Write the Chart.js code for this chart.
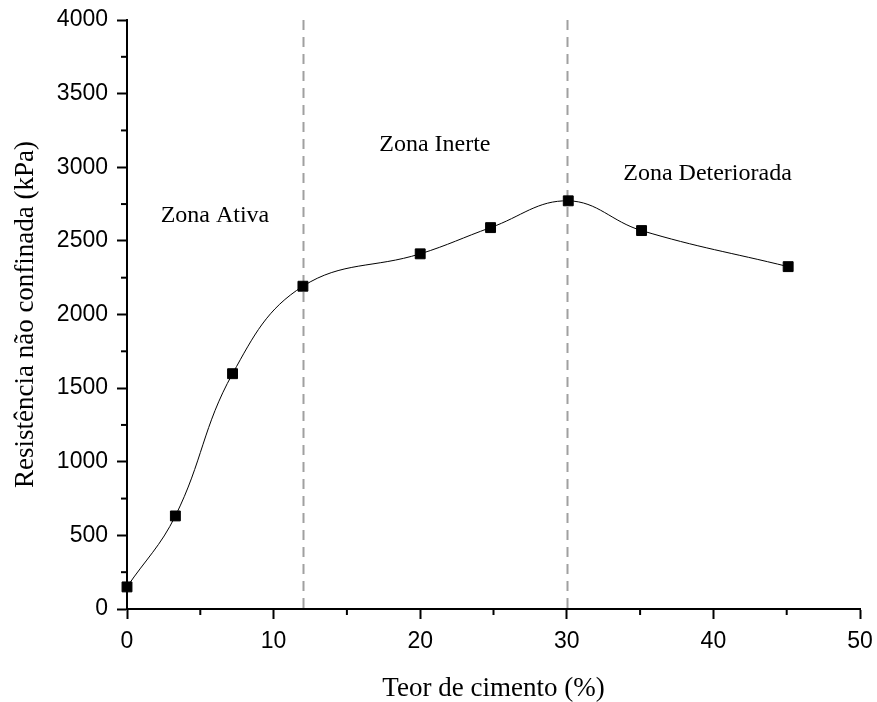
<!DOCTYPE html>
<html>
    <head>
        <title>Resistência x Teor de cimento</title>
        <meta charset="UTF-8">
        <script src="https://cdn.jsdelivr.net/npm/chart.js@4.4.1/dist/chart.umd.min.js"></script>
        <style>
            body { margin: 0; background: #fff; }
            #wrap { width: 877px; height: 702px; }
        </style>
    </head>
    <body>
        <div id="wrap"><canvas id="grafico" width="877" height="702"></canvas></div>
        <script>
            // teor de cimento (%) e resistencia (kPa)
            const teor = [0, 3.3, 7.2, 12, 20, 24.8, 30.1, 35.1, 45.1];
            const resistencia = [150, 632, 1598, 2192, 2412, 2590, 2772, 2570, 2325];
            const limitesZonas = [12, 30];
            const zonas = ['Zona Ativa', 'Zona Inerte', 'Zona Deteriorada'];
            const zonasX = [6.0, 21.0, 39.6];
            const zonasY = [2673, 3150, 2959];

            const pontos = teor.map((t, i) => ({ x: t, y: resistencia[i] }));

            // linhas tracejadas, textos e ticks menores
            const extras = {
                id: 'extras',
                beforeDatasetsDraw(chart) {
                    const { ctx, chartArea, scales } = chart;
                    ctx.save();
                    ctx.strokeStyle = '#a0a0a0';
                    ctx.lineWidth = 2;
                    ctx.setLineDash([10, 7]);
                    limitesZonas.forEach(v => {
                        const px = Math.round(scales.x.getPixelForValue(v)) + 0.5;
                        ctx.beginPath();
                        ctx.moveTo(px, chartArea.top);
                        ctx.lineTo(px, chartArea.bottom);
                        ctx.stroke();
                    });
                    ctx.restore();
                },
                afterDraw(chart) {
                    const { ctx, chartArea, scales } = chart;
                    ctx.save();
                    ctx.fillStyle = '#000';
                    ctx.font = '24px "Liberation Serif"';
                    ctx.textAlign = 'center';
                    ctx.textBaseline = 'middle';
                    zonas.forEach((z, i) => {
                        ctx.fillText(z, scales.x.getPixelForValue(zonasX[i]), scales.y.getPixelForValue(zonasY[i]));
                    });
                    // ticks menores
                    ctx.strokeStyle = '#000';
                    ctx.lineWidth = 2;
                    for (let v = 5; v < 50; v += 10) {
                        const px = scales.x.getPixelForValue(v);
                        ctx.beginPath();
                        ctx.moveTo(px, chartArea.bottom);
                        ctx.lineTo(px, chartArea.bottom + 6);
                        ctx.stroke();
                    }
                    for (let v = 250; v < 4000; v += 500) {
                        const py = scales.y.getPixelForValue(v);
                        ctx.beginPath();
                        ctx.moveTo(chartArea.left, py);
                        ctx.lineTo(chartArea.left - 6, py);
                        ctx.stroke();
                    }
                    ctx.restore();
                }
            };

            new Chart(document.getElementById('grafico'), {
                type: 'line',
                data: {
                    datasets: [{
                        data: pontos,
                        borderColor: '#000',
                        borderWidth: 1,
                        tension: 0.4,
                        pointStyle: 'rect',
                        pointRadius: 7,
                        pointBackgroundColor: '#000',
                        pointBorderColor: '#000',
                        clip: false
                    }]
                },
                options: {
                    responsive: false,
                    animation: false,
                    layout: { padding: { top: 20, right: 17, left: 0, bottom: 0 } },
                    plugins: { legend: { display: false }, tooltip: { enabled: false } },
                    scales: {
                        x: {
                            type: 'linear',
                            min: 0, max: 50,
                            afterFit: s => { s.height = 93; s.paddingLeft = 0; s.paddingRight = 0; },
                            ticks: { stepSize: 10, color: '#000', font: { family: 'Liberation Sans', size: 23 }, padding: 9, callback: v => String(v) },
                            grid: { drawOnChartArea: false, tickLength: 10, tickWidth: 2, tickColor: '#000' },
                            border: { color: '#000', width: 2 },
                            title: { display: true, text: 'Teor de cimento (%)', color: '#000', font: { family: 'Liberation Serif', size: 27, lineHeight: 1 }, padding: { top: 16, bottom: 0 } }
                        },
                        y: {
                            min: 0, max: 4000,
                            afterFit: s => { s.width = 127; s.paddingTop = 0; s.paddingBottom = 0; },
                            ticks: { stepSize: 500, color: '#000', font: { family: 'Liberation Sans', size: 23 }, padding: 9, callback: v => String(v) },
                            grid: { drawOnChartArea: false, tickLength: 10, tickWidth: 2, tickColor: '#000' },
                            border: { color: '#000', width: 2 },
                            title: { display: true, text: 'Resistência não confinada (kPa)', color: '#000', font: { family: 'Liberation Serif', size: 27 }, padding: { top: 10, bottom: 0 } }
                        }
                    }
                },
                plugins: [extras]
            });
        </script>
    </body>
</html>
